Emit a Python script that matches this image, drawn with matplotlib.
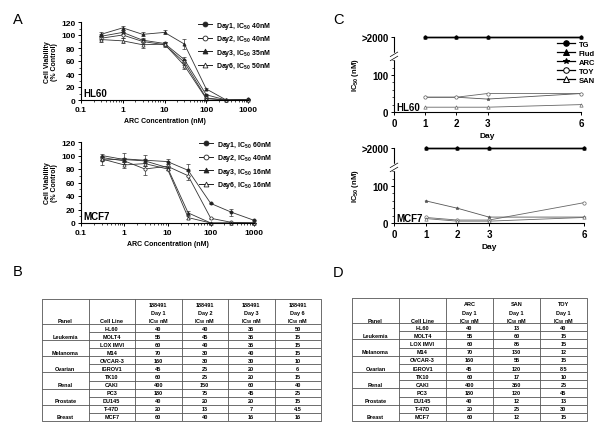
import matplotlib
matplotlib.use('Agg')
import matplotlib.pyplot as plt
from matplotlib.lines import Line2D
import numpy as np

plt.rcParams['font.family'] = ['Liberation Sans', 'DejaVu Sans']
plt.rcParams['font.weight'] = 'bold'
plt.rcParams['axes.labelweight'] = 'bold'
plt.rcParams['mathtext.fontset'] = 'custom'
plt.rcParams['mathtext.rm'] = 'Liberation Sans:bold'
plt.rcParams['mathtext.it'] = 'Liberation Sans:bold'
plt.rcParams['mathtext.bf'] = 'Liberation Sans:bold'
plt.rcParams['axes.linewidth'] = 0.8

# ---- panel A data (ARC concentration, nM) ----
conc = [0.3, 1, 3, 10, 30, 100, 300, 1000]
hl60_labels = ['Day1, IC$_{50}$ 40nM', 'Day2, IC$_{50}$ 40nM', 'Day3, IC$_{50}$ 35nM', 'Day6, IC$_{50}$ 50nM']
hl60_day1 = [98, 104, 92, 87, 62, 8, 0, 1]
hl60_day2 = [95, 100, 90, 85, 58, 3, 0, 0]
hl60_day3 = [101, 111, 101, 104, 86, 17, 0, 1]
hl60_day6 = [93, 91, 85, 86, 53, 2, 0, 0]
hl60_err1 = [4, 3, 3, 3, 4, 2, 0, 0]
hl60_err2 = [3, 4, 4, 4, 4, 1, 0, 0]
hl60_err3 = [3, 3, 3, 3, 8, 2, 0, 0]
hl60_err6 = [4, 4, 5, 3, 5, 1, 0, 0]

mcf7_labels = ['Day1, IC$_{50}$ 60nM', 'Day2, IC$_{50}$ 40nM', 'Day3, IC$_{50}$ 16nM', 'Day6, IC$_{50}$ 16nM']
mcf7_day1 = [93, 95, 93, 91, 78, 29, 16, 4]
mcf7_day2 = [97, 92, 80, 84, 70, 7, 1, 0]
mcf7_day3 = [100, 94, 92, 82, 15, 0, 0, 0]
mcf7_day6 = [95, 86, 88, 80, 8, 0, 0, 0]
mcf7_err1 = [7, 8, 8, 4, 9, 1, 5, 1]
mcf7_err2 = [3, 5, 9, 3, 7, 1, 0, 0]
mcf7_err3 = [2, 3, 3, 3, 3, 0, 0, 0]
mcf7_err6 = [3, 4, 3, 2, 2, 0, 0, 0]

# ---- panel C data (IC50, nM; 2000 means >2000) ----
days = [1, 2, 3, 6]
drugs = ['TG', 'Flud', 'ARC', 'TOY', 'SAN']
hl60_tg = [2000, 2000, 2000, 2000]
hl60_flud = [2000, 2000, 2000, 2000]
hl60_arc = [40, 40, 35, 50]
hl60_toy = [40, 40, 50, 50]
hl60_san = [13, 13, 13, 20]
mcf7_tg = [2000, 2000, 2000, 2000]
mcf7_flud = [2000, 2000, 2000, 2000]
mcf7_arc = [60, 40, 16, 16]
mcf7_toy = [15, 8, 8, 55]
mcf7_san = [12, 5, 5, 15]

# ---- tables B and D ----
panels = ['Leukemia', 'Melanoma', 'Ovarian', 'Renal', 'Prostate', 'Breast']
cell_lines = ['HL60', 'MOLT4', 'LOX IMVI', 'M14', 'OVCAR-3', 'IGROV1',
              'TK10', 'CAKI', 'PC3', 'DU145', 'T-47D', 'MCF7']
b_heads = ['188491', '188491', '188491', '188491']
b_days = ['Day 1', 'Day 2', 'Day 3', 'Day 6']
b_day1 = [40, 55, 60, 70, 160, 45, 60, 400, 180, 40, 20, 60]
b_day2 = [40, 45, 40, 30, 30, 25, 25, 150, 75, 20, 13, 40]
b_day3 = [35, 35, 35, 40, 30, 20, 20, 60, 45, 20, 7, 16]
b_day6 = [50, 15, 15, 15, 10, 6, 15, 40, 25, 15, 4.5, 16]
d_heads = ['ARC', 'SAN', 'TOY']
d_days = ['Day 1', 'Day 1', 'Day 1']
d_arc = [40, 55, 60, 70, 160, 45, 60, 400, 180, 40, 20, 60]
d_san = [13, 60, 85, 130, 55, 120, 17, 350, 120, 12, 25, 12]
d_toy = [40, 15, 15, 12, 15, 8.5, 10, 25, 45, 13, 30, 15]

W, H = 600, 431
fig = plt.figure(figsize=(W / 100, H / 100), dpi=100)


def px(x0, y0, x1, y1):
    return [x0 / W, 1 - y1 / H, (x1 - x0) / W, (y1 - y0) / H]


def style_axis(ax, size):
    for s in ['top', 'right']:
        ax.spines[s].set_visible(False)
    ax.tick_params(which='major', length=2.5, width=0.7, pad=1.5, labelsize=size)
    ax.tick_params(which='minor', length=1.3, width=0.5)


a_styles = [('o', '#222222'), ('o', 'white'), ('^', '#222222'), ('^', 'white')]


def viability(rect, series, errs, labels, name, anchor):
    ax = fig.add_axes(rect)
    handles = []
    for vals, err, lab, (mk, face) in zip(series, errs, labels, a_styles):
        ax.errorbar(conc, vals, yerr=err, fmt='none', ecolor='#333333',
                    elinewidth=0.5, capsize=1.2, capthick=0.5, clip_on=False)
        ax.plot(conc, vals, color='#333333', lw=0.6, marker=mk, ms=2.3,
                mfc=face, mec='#222222', mew=0.5, clip_on=False)
        handles.append(Line2D([], [], color='#222222', lw=0.7, marker=mk,
                              ms=3.5, mfc=face, mec='#222222', mew=0.6))
    ax.set_xscale('log')
    ax.set_xlim(0.1, 1000)
    ax.set_ylim(0, 120)
    ax.set_xticks([0.1, 1, 10, 100, 1000], labels=['0.1', '1', '10', '100', '1000'])
    ax.set_yticks([0, 20, 40, 60, 80, 100, 120])
    ax.set_yticks(np.arange(10, 120, 20), minor=True)
    style_axis(ax, 6)
    ax.set_xlabel('ARC Concentration (nM)', fontsize=5, labelpad=3)
    ax.set_ylabel('Cell Viability\n(% Control)', fontsize=5, labelpad=2, linespacing=1.0)
    ax.text(0.015, 0.03, name, transform=ax.transAxes, fontsize=7, va='bottom')
    ax.legend(handles, labels, loc='upper left', bbox_to_anchor=anchor,
              frameon=False, fontsize=5, handlelength=2.0, handletextpad=0.6,
              labelspacing=0.35, borderpad=0, borderaxespad=0)
    return ax


viability(px(81, 23, 248, 101), [hl60_day1, hl60_day2, hl60_day3, hl60_day6],
          [hl60_err1, hl60_err2, hl60_err3, hl60_err6], hl60_labels, 'HL60', (0.7, 1.03))
viability(px(81, 143, 254, 224), [mcf7_day1, mcf7_day2, mcf7_day3, mcf7_day6],
          [mcf7_err1, mcf7_err2, mcf7_err3, mcf7_err6], mcf7_labels, 'MCF7', (0.68, 1.04))


# broken y axis for panel C: linear to 150, compressed above
def fwd(v):
    v = np.asarray(v, float)
    return np.where(v <= 150, v, 150 + (v - 150) * 53 / 1850)


def inv(y):
    y = np.asarray(y, float)
    return np.where(y <= 150, y, 150 + (y - 150) * 1850 / 53)


c_styles = [('o', 'black', 'black', 1.0), ('^', 'black', 'black', 1.0),
            ('*', '#555555', '#555555', 0.6), ('o', 'white', '#666666', 0.6),
            ('^', 'white', '#666666', 0.6)]


def ic50_panel(rect, series, name, legend):
    ax = fig.add_axes(rect)
    handles = []
    for vals, (mk, face, col, lw) in zip(series, c_styles):
        ax.plot(days, vals, color=col, lw=lw, marker=mk, ms=2.4, mfc=face,
                mec=col, mew=0.5, clip_on=False)
        handles.append(Line2D([], [], color='black', lw=0.9, marker=mk, ms=4,
                              mfc='white' if face == 'white' else 'black',
                              mec='black', mew=0.7))
    ax.set_yscale('function', functions=(fwd, inv))
    ax.set_ylim(0, 2000)
    ax.set_xlim(0, 6)
    ax.set_xticks([0, 1, 2, 3, 6])
    ax.set_yticks([0, 100, 2000], labels=['0', '100', '>2000'])
    ax.set_yticks([20, 40, 60, 80, 120, 140], minor=True)
    style_axis(ax, 7)
    ax.set_xlabel('Day', fontsize=6, labelpad=3)
    ax.set_ylabel('IC$_{50}$ (nM)', fontsize=5.5, labelpad=0)
    ax.text(0.015, 0.07, name, transform=ax.transAxes, fontsize=7, va='center')
    yb = 150 / float(fwd(2000))
    ax.plot([0, 0], [yb - 0.025, yb + 0.03], transform=ax.transAxes, color='white',
            lw=2.5, clip_on=False, zorder=5)
    for dy in (-0.025, 0.03):
        ax.plot([-0.02, 0.02], [yb + dy - 0.03, yb + dy + 0.03], transform=ax.transAxes,
                color='black', lw=0.5, clip_on=False, zorder=6)
    if legend:
        ax.legend(handles, drugs, loc='upper left', bbox_to_anchor=(0.87, 0.95),
                  frameon=False, fontsize=5.5, handlelength=2.4, handletextpad=0.5,
                  labelspacing=0.2, borderpad=0, borderaxespad=0)
    return ax


ic50_panel(px(394, 38, 581, 113), [hl60_tg, hl60_flud, hl60_arc, hl60_toy, hl60_san], 'HL60', True)
ic50_panel(px(394, 149, 584, 224), [mcf7_tg, mcf7_flud, mcf7_arc, mcf7_toy, mcf7_san], 'MCF7', False)


def table(rect, heads, day_heads, columns):
    ax = fig.add_axes(rect)
    ncol = 2 + len(columns)
    nrow = len(cell_lines)
    hh = 3.09
    ax.set_xlim(0, ncol)
    ax.set_ylim(nrow + hh, 0)
    ax.axis('off')
    lc = dict(color='#555555', lw=0.6, solid_capstyle='butt')
    ax.plot([0, ncol, ncol, 0, 0], [0, 0, nrow + hh, nrow + hh, 0], clip_on=False, **lc)
    for c in range(1, ncol):
        ax.plot([c, c], [0, nrow + hh], **lc)
    ax.plot([0, ncol], [hh, hh], **lc)
    for r in range(1, nrow):
        ax.plot([0 if r % 2 == 0 else 1, ncol], [hh + r, hh + r], **lc)
    fs = 4
    ax.text(0.5, 2.72, 'Panel', ha='center', va='center', fontsize=fs)
    ax.text(1.5, 2.72, 'Cell Line', ha='center', va='center', fontsize=fs)
    for j, (h, d) in enumerate(zip(heads, day_heads)):
        ax.text(2.5 + j, 0.62, h, ha='center', va='center', fontsize=fs)
        ax.text(2.5 + j, 1.73, d, ha='center', va='center', fontsize=fs)
        ax.text(2.5 + j, 2.72, 'IC$_{50}$ nM', ha='center', va='center', fontsize=fs)
    for k, p in enumerate(panels):
        ax.text(0.5, hh + 2 * k + 1.5, p, ha='center', va='center', fontsize=fs)
    for r, cl in enumerate(cell_lines):
        ax.text(1.5, hh + r + 0.5, cl, ha='center', va='center', fontsize=fs)
        for j, col in enumerate(columns):
            ax.text(2.5 + j, hh + r + 0.5, f'{col[r]:g}', ha='center', va='center', fontsize=fs)
    return ax


table(px(42, 300, 321, 422), b_heads, b_days, [b_day1, b_day2, b_day3, b_day6])
table(px(352, 299, 587, 422), d_heads, d_days, [d_arc, d_san, d_toy])

for letter, x, y in [('A', 18, 20), ('B', 18, 272), ('C', 338, 20), ('D', 338, 273)]:
    fig.text(x / W, 1 - y / H, letter, fontsize=10.5, fontweight='normal',
             ha='center', va='center')

fig.savefig('out.png', dpi=100)
